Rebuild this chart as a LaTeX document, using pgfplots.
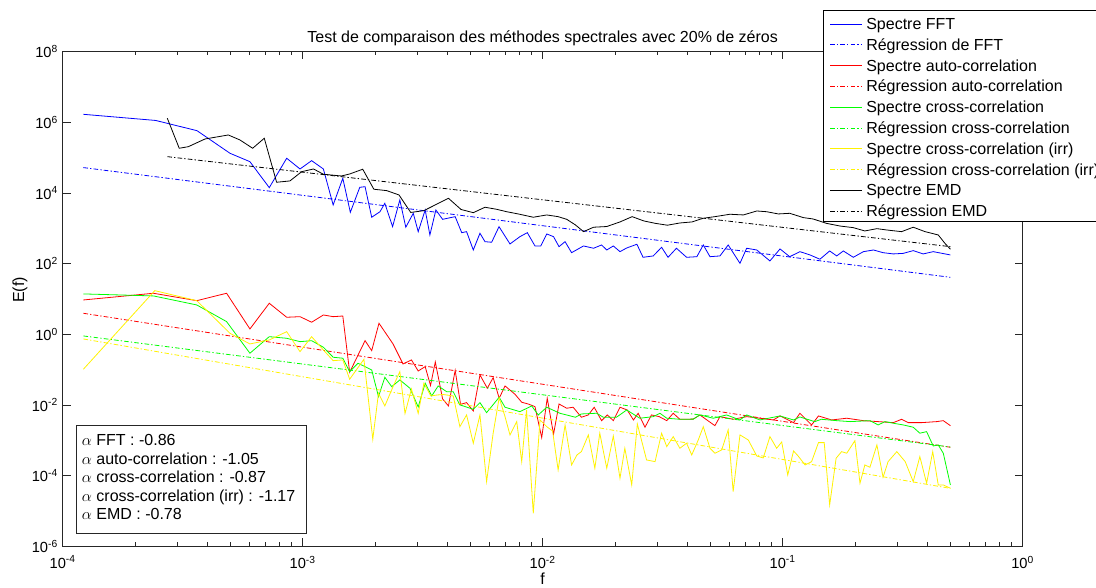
\documentclass[border=0pt]{standalone}
\usepackage{fontspec}
\setmainfont{Liberation Sans}
\usepackage{pgfplots}
\pgfplotsset{compat=1.18}
\usepackage{pgfplotstable}
\usetikzlibrary{calc}

% spectre FFT
\pgfplotstableread{
f E
1.22e-4 1.67e6
2.44e-4 1.12e6
3.63e-4 5.75e5
4.98e-4 1.32e5
6.03e-4 7.64e4
7.26e-4 1.41e4
8.58e-4 9.55e4
9.75e-4 4.75e4
1.09e-3 8.17e4
1.22e-3 4.75e4
1.34e-3 4.56e3
1.47e-3 2.59e4
1.58e-3 2.83e3
1.73e-3 1.44e4
1.82e-3 1.50e4
1.94e-3 2.05e3
2.10e-3 2.94e3
2.20e-3 5.09e3
2.37e-3 1.11e3
2.54e-3 6.31e3
2.69e-3 1.07e3
2.89e-3 2.65e3
3.03e-3 802
3.24e-3 3.29e3
3.39e-3 646
3.59e-3 3.29e3
3.83e-3 1.79e3
4.32e-3 2.13e3
4.60e-3 751
4.82e-3 802
5.14e-3 243
5.48e-3 722
5.75e-3 418
6.13e-3 402
6.58e-3 1.11e3
7.31e-3 360
8.04e-3 578
8.63e-3 751
9.29e-3 316
9.82e-3 316
1.04e-2 690
1.11e-2 578
1.17e-2 302
1.24e-2 418
1.32e-2 204
1.48e-2 316
1.63e-2 272
1.76e-2 337
1.85e-2 243
1.97e-2 316
2.10e-2 218
2.24e-2 277
2.47e-2 353
2.62e-2 151
2.89e-2 165
3.13e-2 290
3.33e-2 151
3.61e-2 272
3.98e-2 151
4.39e-2 157
4.67e-2 337
4.98e-2 157
5.48e-2 165
5.93e-2 337
6.64e-2 102
7.08e-2 272
7.80e-2 243
8.85e-2 119
9.75e-2 260
0.107 157
0.118 218
0.130 176
0.143 133
0.157 228
0.168 165
0.179 228
0.197 151
0.217 218
0.239 243
0.262 204
0.289 188
0.318 195
0.350 233
0.385 188
0.424 218
0.5 176
}\tfft

% spectre auto-correlation
\pgfplotstableread{
f E
1.22e-4 9.38
2.39e-4 14.5
3.62e-4 8.96
4.82e-4 14.5
6.03e-4 1.42
7.26e-4 7.57
8.58e-4 3.04
9.75e-4 3.16
1.09e-3 2.20
1.22e-3 3.53
1.34e-3 3.16
1.47e-3 3.3
1.57e-3 8.47e-2
1.82e-3 0.662
1.94e-3 0.345
2.08e-3 2.06
2.38e-3 0.535
2.62e-3 0.145
2.84e-3 0.189
3.03e-3 9.2e-2
3.24e-3 0.122
3.41e-3 3.58e-2
3.57e-3 0.166
3.83e-3 1.49e-2
4.05e-3 9.44e-3
4.32e-3 9.53e-2
4.55e-3 1.05e-2
4.82e-3 1.17e-2
5.14e-3 6.81e-3
5.48e-3 7.10e-2
5.88e-3 2.99e-2
6.22e-3 5.96e-2
6.59e-3 1.56e-2
6.97e-3 3.47e-2
7.67e-3 2.02e-2
8.18e-3 1.20e-2
8.71e-3 1.07e-2
9.29e-3 9.02e-3
9.91e-3 1.20e-3
1.045e-2 1.56e-2
1.11e-2 1.49e-3
1.17e-2 1.07e-2
1.26e-2 8.13e-3
1.34e-2 8.67e-3
1.45e-2 4.52e-3
1.55e-2 5.25e-3
1.64e-2 8.67e-3
1.76e-2 3.62e-3
1.86e-2 5.25e-3
1.97e-2 3.62e-3
2.10e-2 8.67e-3
2.25e-2 7.26e-3
2.39e-2 3.79e-3
2.50e-2 5.86e-3
2.67e-2 2.36e-3
2.84e-2 5.25e-3
3.06e-2 4.70e-3
3.29e-2 3.62e-3
3.50e-2 5.86e-3
3.73e-2 3.96e-3
4.24e-2 4.0e-3
4.52e-2 5.25e-3
5.22e-2 2.61e-3
5.48e-2 4.70e-3
6.22e-2 3.96e-3
7.08e-2 4.70e-3
8.04e-2 4.24e-3
9.14e-2 3.79e-3
9.75e-2 4.92e-3
0.111 3.18e-3
0.118 5.86e-3
0.132 2.74e-3
0.141 4.92e-3
0.160 3.79e-3
0.185 4.24e-3
0.217 3.62e-3
0.250 3.40e-3
0.289 3.18e-3
0.313 3.96e-3
0.334 3.18e-3
0.379 3.18e-3
0.438 3.40e-3
0.467 3.62e-3
0.5 2.61e-3
}\tauto

% spectre cross-correlation
\pgfplotstableread{
f E
1.22e-4 13.9
2.39e-4 12.2
3.62e-4 6.78
4.82e-4 2.29
6.03e-4 0.292
7.26e-4 0.859
8.58e-4 0.774
9.75e-4 0.621
1.09e-3 0.662
1.22e-3 0.431
1.34e-3 0.225
1.47e-3 0.211
1.57e-3 8.81e-2
1.70e-3 0.152
1.82e-3 0.122
1.94e-3 9.84e-2
2.07e-3 1.73e-2
2.20e-3 6.11e-2
2.35e-3 3.31e-2
2.54e-3 5.13e-2
2.80e-3 2.99e-2
3.03e-3 8.83e-3
3.24e-3 4.14e-2
3.45e-3 1.81e-2
3.67e-3 3.47e-2
3.98e-3 2.39e-2
4.24e-3 2.39e-2
4.52e-3 1.01e-2
5.14e-3 7.60e-3
5.48e-3 1.17e-2
5.84e-3 6.10e-3
6.59e-3 1.66e-2
6.97e-3 8.67e-3
8.04e-3 6.50e-3
9.0e-3 9.44e-3
9.59e-3 5.25e-3
1.04e-2 8.67e-3
1.18e-2 5.86e-3
1.37e-2 4.52e-3
1.45e-2 5.60e-3
1.68e-2 5.86e-3
1.79e-2 4.52e-3
2.03e-2 4.52e-3
2.24e-2 7.26e-3
2.54e-2 4.24e-3
2.89e-2 4.70e-3
3.08e-2 5.86e-3
3.29e-2 4.24e-3
3.73e-2 3.96e-3
4.24e-2 4.0e-3
4.52e-2 5.25e-3
5.14e-2 4.24e-3
5.84e-2 5.25e-3
6.64e-2 3.79e-3
7.08e-2 5.25e-3
8.04e-2 3.79e-3
9.75e-2 4.92e-3
0.111 3.79e-3
0.118 4.6e-3
0.136 3.40e-3
0.145 3.96e-3
0.168 3.62e-3
0.191 3.40e-3
0.231 3.62e-3
0.250 2.74e-3
0.267 3.40e-3
0.289 3.06e-3
0.318 2.74e-3
0.350 2.36e-3
0.373 1.60e-3
0.398 1.77e-3
0.424 6.97e-4
0.445 7.45e-4
0.467 4.34e-4
0.5 5.50e-5
}\tcross

% spectre cross-correlation (irr)
\pgfplotstableread{
f E
1.22e-4 0.103
2.42e-4 17.2
3.62e-4 8.96
4.98e-4 1.07
6.03e-4 0.535
7.26e-4 0.693
8.58e-4 1.19
9.75e-4 0.324
1.09e-3 0.859
1.22e-3 0.361
1.34e-3 0.180
1.47e-3 0.189
1.57e-3 5.37e-2
1.80e-3 0.197
1.96e-3 1.08e-3
2.07e-3 2.16e-2
2.20e-3 9.44e-3
2.38e-3 3.31e-2
2.54e-3 8.81e-2
2.67e-3 5.78e-3
2.84e-3 2.85e-2
3.03e-3 5.8e-3
3.20e-3 4.14e-2
3.42e-3 1.81e-2
3.65e-3 1.93e-2
3.85e-3 1.99e-2
4.24e-3 1.81e-2
4.52e-3 2.45e-3
4.82e-3 5.25e-3
5.14e-3 8.32e-4
5.48e-3 5.25e-3
5.84e-3 6.82e-5
6.22e-3 1.60e-3
6.59e-3 1.62e-2
6.97e-3 4.70e-3
7.31e-3 1.43e-3
7.80e-3 3.40e-3
8.18e-3 2.51e-4
8.57e-3 7.26e-3
9.14e-3 8.71e-6
9.75e-3 3.79e-3
1.04e-2 2.45e-3
1.10e-2 1.85e-3
1.16e-2 1.46e-4
1.24e-2 2.74e-3
1.32e-2 2.02e-4
1.39e-2 3.88e-4
1.45e-2 4.81e-4
1.55e-2 1.43e-3
1.65e-2 1.63e-4
1.73e-2 1.60e-3
1.85e-2 1.63e-4
1.97e-2 1.34e-3
2.10e-2 8.51e-5
2.20e-2 6.0e-4
2.35e-2 5.50e-5
2.48e-2 2.92e-3
2.71e-2 2.80e-4
2.94e-2 2.51e-4
3.13e-2 1.60e-3
3.29e-2 6.67e-4
3.50e-2 1.28e-3
3.73e-2 6.0e-4
3.98e-2 8.32e-4
4.18e-2 3.88e-4
4.45e-2 1.03e-3
4.67e-2 2.45e-3
4.98e-2 6.0e-4
5.22e-2 4.34e-4
5.57e-2 5.37e-4
5.93e-2 1.98e-3
6.22e-2 3.56e-5
6.64e-2 1.43e-3
7.19e-2 1.03e-3
7.80e-2 3.63e-4
8.30e-2 3.19e-4
8.85e-2 1.28e-3
9.44e-2 6.0e-4
9.91e-2 9.04e-4
0.105 1.05e-4
0.111 5.03e-4
0.116 3.63e-4
0.124 2.02e-4
0.132 2.51e-4
0.141 8.65e-4
0.149 8.65e-4
0.157 1.50e-5
0.167 3.13e-4
0.176 4.81e-4
0.185 4.34e-4
0.200 9.84e-4
0.210 6.14e-5
0.220 2.02e-4
0.231 1.74e-4
0.247 7.45e-4
0.262 9.08e-5
0.275 2.51e-4
0.299 4.81e-4
0.324 2.51e-4
0.350 6.82e-5
0.373 3.48e-4
0.398 6.14e-5
0.422 4.81e-4
0.445 5.50e-5
0.467 5.50e-5
0.5 4.44e-5
}\tirr

% spectre EMD
\pgfplotstableread{
f E
2.73e-4 1.29e6
3.06e-4 1.83e5
3.34e-4 2.03e5
3.92e-4 3.35e5
4.90e-4 4.35e5
5.48e-4 3.14e5
6.19e-4 1.83e5
6.92e-4 3.51e5
7.79e-4 2.0e4
8.85e-4 2.18e4
9.91e-4 3.99e4
1.11e-3 4.75e4
1.22e-3 3.37e4
1.45e-3 3.01e4
1.57e-3 3.43e4
1.78e-3 4.67e4
1.98e-3 1.27e4
2.24e-3 1.16e4
2.52e-3 8.75e3
2.82e-3 2.80e3
3.20e-3 3.15e3
4.05e-3 7.05e3
4.57e-3 3.40e3
5.14e-3 2.76e3
5.75e-3 3.93e3
6.43e-3 3.44e3
7.08e-3 2.94e3
7.91e-3 2.54e3
9.14e-3 2.05e3
1.04e-2 2.38e3
1.16e-2 2.13e3
1.26e-2 1.79e3
1.37e-2 1.24e3
1.48e-2 802
1.63e-2 1.07e3
1.85e-2 1.12e3
2.10e-2 1.51e3
2.36e-2 2.13e3
2.64e-2 1.61e3
2.96e-2 1.37e3
3.31e-2 1.22e3
3.73e-2 1.41e3
4.19e-2 1.51e3
4.67e-2 1.92e3
5.22e-2 2.13e3
6.03e-2 2.49e3
6.86e-2 2.38e3
7.80e-2 3.08e3
8.57e-2 2.94e3
9.60e-2 2.54e3
0.107 2.65e3
0.122 2.0e3
0.134 1.83e3
0.152 1.38e3
0.173 1.16e3
0.197 1.04e3
0.220 839
0.247 975
0.271 895
0.313 802
0.350 1.07e3
0.392 802
0.445 646
0.474 377
0.5 255
}\temd

\tikzset{rdash/.style={dash pattern=on 3.5pt off 1.6pt on 1pt off 1.6pt}}

\begin{document}
\begin{tikzpicture}
\begin{axis}[name=ax,
    xmode=log, ymode=log,
    scale only axis, width=720pt, height=371.25pt,
    xmin=1e-4, xmax=1, ymin=1e-6, ymax=1e8,
    xtick={1e-4,1e-3,1e-2,1e-1,1},
    xticklabels={10\textsuperscript{-4},10\textsuperscript{-3},10\textsuperscript{-2},10\textsuperscript{-1},10\textsuperscript{0}},
    minor xtick={2e-4,3e-4,4e-4,5e-4,6e-4,7e-4,8e-4,9e-4,
                 2e-3,3e-3,4e-3,5e-3,6e-3,7e-3,8e-3,9e-3,
                 2e-2,3e-2,4e-2,5e-2,6e-2,7e-2,8e-2,9e-2,
                 0.2,0.3,0.4,0.5,0.6,0.7,0.8,0.9},
    ytick={1e-6,1e-4,1e-2,1,1e2,1e4,1e6,1e8},
    yticklabels={10\textsuperscript{-6},10\textsuperscript{-4},10\textsuperscript{-2},10\textsuperscript{0},10\textsuperscript{2},10\textsuperscript{4},10\textsuperscript{6},10\textsuperscript{8}},
    yminorticks=false,
    major tick length=6pt, minor tick length=3pt,
    tick style={black!85, line width=0.5pt},
    axis line style={black!85, line width=0.6pt},
    tick label style={font=\fontsize{11}{13}\selectfont},
    xticklabel style={yshift=-3.5pt},
    title={Test de comparaison des méthodes spectrales avec 20\% de zéros},
    title style={at={(axis description cs:0.5,1.011)}, anchor=center, font=\fontsize{12}{14}\selectfont},
    xlabel={f},
    xlabel style={at={(axis description cs:0.5,-0.066)}, anchor=center, font=\fontsize{12}{14}\selectfont},
    ylabel={E(f)},
    ylabel style={at={(axis description cs:-0.0445,0.518)}, anchor=center, font=\fontsize{12}{14}\selectfont},
    every axis plot/.append style={line width=0.6pt},
]
\addplot[color=blue] table[x=f,y=E] {\tfft};
\addplot[color=blue, rdash] coordinates {(1.22e-4,5.2e4) (0.5,41)};
\addplot[color=red] table[x=f,y=E] {\tauto};
\addplot[color=red, rdash] coordinates {(1.22e-4,3.94) (0.5,6.4e-4)};
\addplot[color=green] table[x=f,y=E] {\tcross};
\addplot[color=green, rdash] coordinates {(1.22e-4,0.90) (0.5,6.5e-4)};
\addplot[color=yellow] table[x=f,y=E] {\tirr};
\addplot[color=yellow, rdash] coordinates {(1.22e-4,0.74) (0.5,4.4e-5)};
\addplot[color=black] table[x=f,y=E] {\temd};
\addplot[color=black, rdash] coordinates {(2.73e-4,1.06e5) (0.5,302)};

\draw[black!85, line width=0.5pt, fill=white] (rel axis cs:0.01385,0.0271) rectangle (rel axis cs:0.2534,0.2453);
\node[anchor=north west, align=left, inner sep=0pt, font=\fontsize{12}{13.9}\selectfont]
  at (rel axis cs:0.0198,0.2265)
  {$\alpha$ FFT : -0.86\\
   $\alpha$ auto-correlation : -1.05\\
   $\alpha$ cross-correlation : -0.87\\
   $\alpha$ cross-correlation (irr) : -1.17\\
   $\alpha$ EMD : -0.78};
\end{axis}

% legend, laid out in picture pixels from the top-left corner
% (all sample lines first, then the texts, so each line keeps its colour)
\begin{scope}[shift={($(ax.south west)+(-47pt,409.85pt)$)}, x=0.75pt, y=-0.75pt,
    lg/.style={anchor=base west, inner sep=0pt, font=\fontsize{12}{14}\selectfont},
    ls/.style={line width=0.6pt}]
  \draw[black, line width=0.5pt, fill=white] (823,10) rectangle (1110,221);
  \draw[ls, blue] (830,24) -- (862,24);
  \draw[ls, blue, rdash] (830,44.8) -- (862,44.8);
  \draw[ls, red] (830,65.6) -- (862,65.6);
  \draw[ls, red, rdash] (830,86.4) -- (862,86.4);
  \draw[ls, green] (830,107.2) -- (862,107.2);
  \draw[ls, green, rdash] (830,128) -- (862,128);
  \draw[ls, yellow] (830,148.8) -- (862,148.8);
  \draw[ls, yellow, rdash] (830,169.6) -- (862,169.6);
  \draw[ls, black] (830,190.4) -- (862,190.4);
  \draw[ls, black, rdash] (830,211.2) -- (862,211.2);
  \node[lg] at (866,29.5) {Spectre FFT};
  \node[lg] at (866,50.3) {Régression de FFT};
  \node[lg] at (866,71.1) {Spectre auto-correlation};
  \node[lg] at (866,91.9) {Régression auto-correlation};
  \node[lg] at (866,112.7) {Spectre cross-correlation};
  \node[lg] at (866,133.5) {Régression cross-correlation};
  \node[lg] at (866,154.3) {Spectre cross-correlation (irr)};
  \node[lg] at (866,175.1) {Régression cross-correlation (irr)};
  \node[lg] at (866,195.9) {Spectre EMD};
  \node[lg] at (866,216.7) {Régression EMD};
\end{scope}

\pgfresetboundingbox
\path[use as bounding box] ($(ax.south west)+(-47pt,-30.45pt)$) rectangle ($(ax.north east)+(55pt,38.6pt)$);
\end{tikzpicture}
\end{document}
